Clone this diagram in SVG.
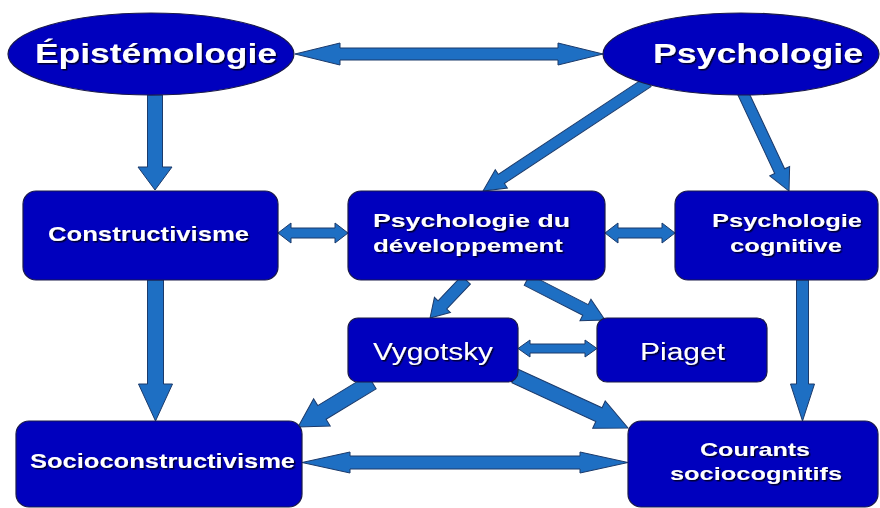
<svg xmlns="http://www.w3.org/2000/svg" width="880" height="508" viewBox="0 0 880 508">
<defs>
<filter id="sh" x="-10%" y="-30%" width="120%" height="160%">
<feDropShadow dx="1.5" dy="1.5" stdDeviation="0.7" flood-color="#000" flood-opacity="0.75"/>
</filter>
<style>
.node{fill:#0000BE;stroke:#1a1a4a;stroke-width:1.2}
.arr{fill:#1E6FC3;stroke:#1b3a6b;stroke-width:1}
.t{fill:#fff;font-family:"Liberation Sans",Arial,sans-serif;filter:url(#sh)}
.b{font-weight:bold}
</style>
</defs>
<rect width="880" height="508" fill="#fff"/>
<g id="connectors">
<polygon class="arr" points="295,54 340,43 340,48 558,48 558,43 603,54 558,65 558,60 340,60 340,65"/>
<polygon class="arr" points="147.5,95 162.5,95 162.5,167 172,167 155,190 138,167 147.5,167"/>
<polygon class="arr" transform="translate(648,82) rotate(146.55)" points="0,-5.5 175.8,-5.5 175.8,-11 197.8,0 175.8,11 175.8,5.5 0,5.5"/>
<polygon class="arr" transform="translate(743,93) rotate(64.85)" points="0,-5.5 86.3,-5.5 86.3,-11 108.3,0 86.3,11 86.3,5.5 0,5.5"/>
<polygon class="arr" points="278,233 291,223 291,228 335,228 335,223 348,233 335,243 335,238 291,238 291,243"/>
<polygon class="arr" points="605,233 618,223 618,228 662,228 662,223 675,233 662,243 662,238 618,238 618,243"/>
<polygon class="arr" transform="translate(466,280) rotate(133.45)" points="0,-6 34.3,-6 34.3,-11 52.3,0 34.3,11 34.3,6 0,6"/>
<polygon class="arr" transform="translate(527,280) rotate(27.15)" points="0,-6 65.7,-6 65.7,-12 87.7,0 65.7,12 65.7,6 0,6"/>
<polygon class="arr" points="518,348.5 530,340 530,344 585,344 585,340 597,348.5 585,357 585,353 530,353 530,357"/>
<polygon class="arr" points="796.5,280 808.5,280 808.5,384 814.5,384 802.5,421 790.5,384 796.5,384"/>
<polygon class="arr" points="147.5,280 163.5,280 163.5,384 172.5,384 155.5,421 138.5,384 147.5,384"/>
<polygon class="arr" transform="translate(372,382) rotate(148.7)" points="0,-8 58.6,-8 58.6,-16 86.6,0 58.6,16 58.6,8 0,8"/>
<polygon class="arr" transform="translate(515,376) rotate(24.7)" points="0,-7.5 92.4,-7.5 92.4,-15 124.4,0 92.4,15 92.4,7.5 0,7.5"/>
<polygon class="arr" points="302,462.5 350,452 350,456 580,456 580,452 628,462.5 580,473 580,469 350,469 350,473"/>
</g>
<g id="epistemologie">
<ellipse class="node" cx="151" cy="54" rx="143" ry="41"/>
<text class="t b" x="35" y="63" font-size="28" textLength="242" lengthAdjust="spacingAndGlyphs">Épistémologie</text>
</g>
<g id="psychologie">
<ellipse class="node" cx="741" cy="54" rx="138" ry="41"/>
<text class="t b" x="653" y="63" font-size="28" textLength="210" lengthAdjust="spacingAndGlyphs">Psychologie</text>
</g>
<g id="constructivisme">
<rect class="node" x="23" y="191" width="255" height="89" rx="13"/>
<text class="t b" x="48" y="241" font-size="21" textLength="201" lengthAdjust="spacingAndGlyphs">Constructivisme</text>
</g>
<g id="psych-dev">
<rect class="node" x="348" y="191" width="257" height="89" rx="13"/>
<text class="t b" x="373" y="227" font-size="19" textLength="197" lengthAdjust="spacingAndGlyphs">Psychologie  du</text>
<text class="t b" x="373" y="252" font-size="19" textLength="190" lengthAdjust="spacingAndGlyphs">développement</text>
</g>
<g id="psych-cog">
<rect class="node" x="675" y="191" width="203" height="89" rx="13"/>
<text class="t b" x="712" y="227" font-size="19" textLength="150" lengthAdjust="spacingAndGlyphs">Psychologie</text>
<text class="t b" x="730" y="252" font-size="19" textLength="112" lengthAdjust="spacingAndGlyphs">cognitive</text>
</g>
<g id="vygotsky">
<rect class="node" x="348" y="318" width="170" height="64" rx="10"/>
<text class="t" x="373" y="360" font-size="23" textLength="120" lengthAdjust="spacingAndGlyphs">Vygotsky</text>
</g>
<g id="piaget">
<rect class="node" x="597" y="318" width="170" height="64" rx="10"/>
<text class="t" x="640" y="360" font-size="23" textLength="85" lengthAdjust="spacingAndGlyphs">Piaget</text>
</g>
<g id="socioconstructivisme">
<rect class="node" x="16" y="421" width="286" height="86" rx="13"/>
<text class="t b" x="30" y="468" font-size="21" textLength="265" lengthAdjust="spacingAndGlyphs">Socioconstructivisme</text>
</g>
<g id="courants">
<rect class="node" x="628" y="421" width="250" height="86" rx="13"/>
<text class="t b" x="700" y="456" font-size="19" textLength="110" lengthAdjust="spacingAndGlyphs">Courants</text>
<text class="t b" x="670" y="480" font-size="19" textLength="172" lengthAdjust="spacingAndGlyphs">sociocognitifs</text>
</g>
</svg>
